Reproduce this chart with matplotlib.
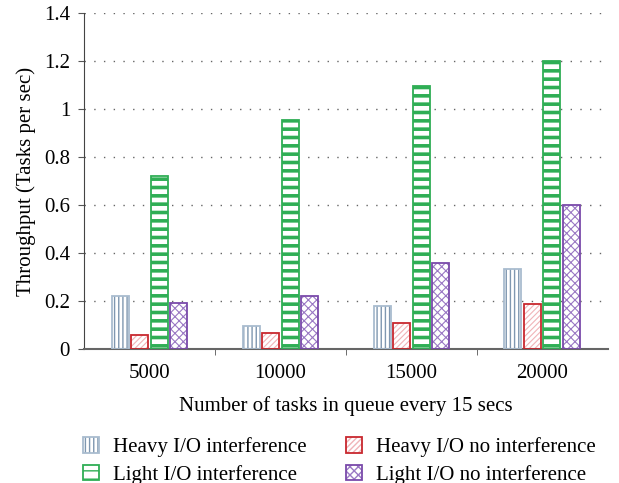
import numpy as np
import matplotlib
matplotlib.use('Agg')
import matplotlib.pyplot as plt
from matplotlib.patches import Patch
from matplotlib.legend_handler import HandlerTuple

categories = ['5000', '10000', '15000', '20000']
heavy_interf = [0.222, 0.097, 0.178, 0.332]
heavy_no_interf = [0.057, 0.065, 0.107, 0.186]
light_interf = [0.72, 0.955, 1.095, 1.2]
light_no_interf = [0.19, 0.22, 0.357, 0.6]

plt.rcParams['font.family'] = ['Liberation Serif', 'DejaVu Serif']
plt.rcParams['hatch.linewidth'] = 1.0

fig = plt.figure(figsize=(6.19, 4.83), dpi=100)
ax = fig.add_axes([0.1357, 0.2774, 0.846, 0.6956])

x = np.arange(len(categories))
w = 0.13
step = 0.149

# series: values, hatch, hatch colour, edge colour, hatch linewidth
series = [
    (heavy_interf, '||||', '#7f97b0', '#a9bccf', 1.0),
    (heavy_no_interf, '//////', '#f0b4b8', '#c8282e', 0.8),
    (light_interf, '--', '#2fae55', '#2fae55', 2.6),
    (light_no_interf, 'xxxx', '#9a78c4', '#7a4aaa', 0.8),
]
labels = ['Heavy I/O interference', 'Heavy I/O no interference',
          'Light I/O interference', 'Light I/O no interference']

handles = []
for i, (vals, hatch, hcol, ecol, hlw) in enumerate(series):
    pos = x + (i - 1.5) * step
    plt.rcParams['hatch.linewidth'] = hlw
    ax.bar(pos, vals, w, color='white', hatch=hatch, edgecolor=hcol,
           linewidth=0, zorder=2)
    ax.bar(pos, vals, w, color='none', edgecolor=ecol, linewidth=1.3, zorder=3)
    h1 = Patch(facecolor='white', hatch=hatch, edgecolor=hcol, linewidth=0)
    h2 = Patch(facecolor='none', edgecolor=ecol, linewidth=1.3)
    handles.append((h1, h2))
plt.rcParams['hatch.linewidth'] = 1.0

ax.set_xlim(-0.5, 3.5)
ax.set_ylim(0, 1.4)
ax.set_yticks(np.arange(0, 1.41, 0.2))
ax.set_yticklabels(['0', '0.2', '0.4', '0.6', '0.8', '1', '1.2', '1.4'])
ax.set_xticks(x)
ax.set_xticklabels(categories)
ax.set_xticks([0.5, 1.5, 2.5], minor=True)
ax.tick_params(axis='x', which='major', length=0, labelsize=15, pad=11)
ax.tick_params(axis='x', which='minor', length=4, direction='out', color='#555555')
ax.tick_params(axis='y', length=4, direction='out', labelsize=15, pad=6, color='#555555')
ax.yaxis.grid(True, linestyle=(0, (1, 6)), color='#666666', linewidth=1.0, zorder=0)
ax.set_axisbelow(True)
for s in ['top', 'right']:
    ax.spines[s].set_visible(False)
ax.spines['left'].set_color('#444444')
ax.spines['bottom'].set_color('#666666')
ax.spines['bottom'].set_linewidth(1.5)

ax.set_ylabel('Throughput (Tasks per sec)', fontsize=15, labelpad=6)
ax.set_xlabel('Number of tasks in queue every 15 secs', fontsize=15, labelpad=9)

order = [0, 2, 1, 3]
fig.legend([handles[i] for i in order], [labels[i] for i in order],
           handler_map={tuple: HandlerTuple(ndivide=1, pad=0)},
           ncol=2, loc='upper left', bbox_to_anchor=(83 / 619, 1 - 437 / 483),
           frameon=False, fontsize=15, handlelength=0.77, handleheight=0.77,
           columnspacing=1.9, handletextpad=0.67, labelspacing=0.36,
           borderpad=0, borderaxespad=0)

fig.savefig('out.png', dpi=100)
